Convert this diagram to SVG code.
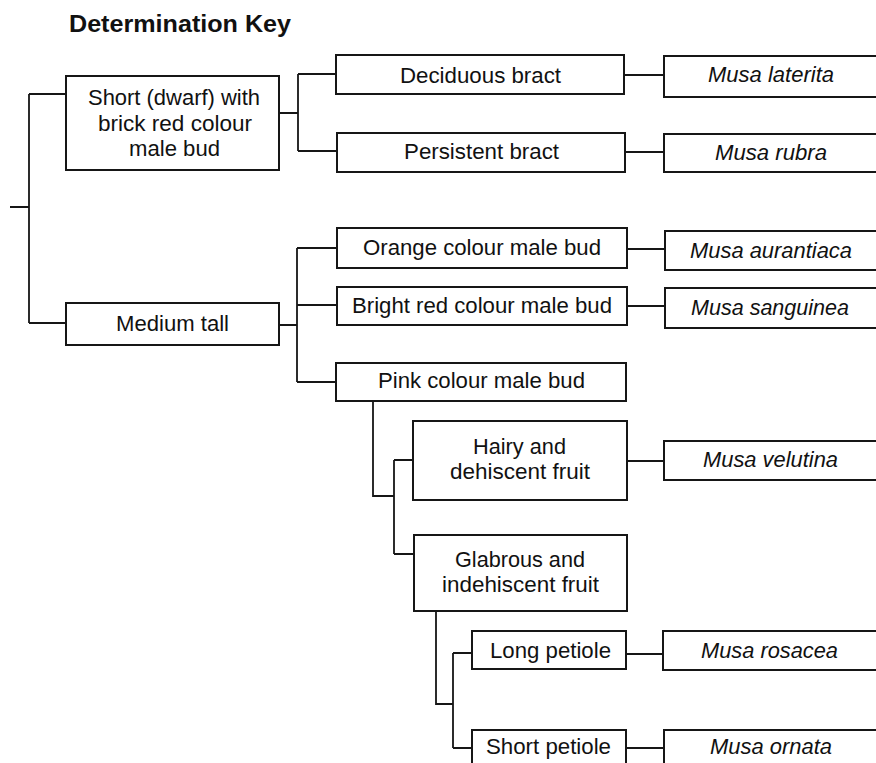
<svg xmlns="http://www.w3.org/2000/svg" width="876" height="763" viewBox="0 0 876 763">
<style>
.bg{fill:#ffffff}
.box{fill:#ffffff;stroke:#161616;stroke-width:2}
.ln{fill:none;stroke:#161616;stroke-width:1.8}
text{font-family:"Liberation Sans",Arial,Helvetica,sans-serif;font-size:22px;fill:#111111}
.it{font-style:italic}
.title{font-weight:bold;font-size:23px}
</style>
<rect class="bg" x="0" y="0" width="876" height="763"/>
<text class="title" x="69" y="32" textLength="222" lengthAdjust="spacingAndGlyphs">Determination Key</text>
<g id="connectors">
<path class="ln" d="M10 207 H29 M29 94 V323 M29 94 H66 M29 323 H66"/>
<path class="ln" d="M279 113 H298 M298 74 V151 M298 74 H336 M298 151 H337"/>
<path class="ln" d="M624 75 H664 M625 152 H664"/>
<path class="ln" d="M279 325 H297 M297 248 V382 M297 248 H337 M297 305 H337 M297 382 H336"/>
<path class="ln" d="M627 249 H665 M627 306 H665"/>
<path class="ln" d="M373 401 V496 H394 M394 460 V554 M394 460 H413 M394 554 H414"/>
<path class="ln" d="M627 461 H664"/>
<path class="ln" d="M436 611 V704 H453 M453 653 V748 M453 653 H472 M453 748 H472"/>
<path class="ln" d="M626 654 H663 M626 748 H664"/>
</g>
<g id="n-short">
<rect class="box" x="66" y="76" width="213" height="94"/>
<text x="88" y="105" textLength="172" lengthAdjust="spacingAndGlyphs">Short (dwarf) with</text>
<text x="98" y="130.5" textLength="154" lengthAdjust="spacingAndGlyphs">brick red colour</text>
<text x="129" y="156" textLength="91" lengthAdjust="spacingAndGlyphs">male bud</text>
</g>
<g id="n-deciduous">
<rect class="box" x="336" y="55" width="288" height="39"/>
<text x="400" y="83" textLength="161" lengthAdjust="spacingAndGlyphs">Deciduous bract</text>
</g>
<g id="n-persistent">
<rect class="box" x="337" y="133" width="288" height="39"/>
<text x="404" y="159" textLength="155" lengthAdjust="spacingAndGlyphs">Persistent bract</text>
</g>
<g id="n-laterita">
<rect class="box" x="664" y="56" width="240" height="41"/>
<text class="it" x="708" y="82" textLength="126" lengthAdjust="spacingAndGlyphs">Musa laterita</text>
</g>
<g id="n-rubra">
<rect class="box" x="664" y="134" width="240" height="38"/>
<text class="it" x="715" y="160" textLength="112" lengthAdjust="spacingAndGlyphs">Musa rubra</text>
</g>
<g id="n-medium">
<rect class="box" x="66" y="303" width="213" height="42"/>
<text x="116" y="331" textLength="113" lengthAdjust="spacingAndGlyphs">Medium tall</text>
</g>
<g id="n-orange">
<rect class="box" x="337" y="228" width="290" height="40"/>
<text x="363" y="255" textLength="238" lengthAdjust="spacingAndGlyphs">Orange colour male bud</text>
</g>
<g id="n-brightred">
<rect class="box" x="337" y="287" width="290" height="38"/>
<text x="352" y="313" textLength="260" lengthAdjust="spacingAndGlyphs">Bright red colour male bud</text>
</g>
<g id="n-pink">
<rect class="box" x="336" y="363" width="290" height="38"/>
<text x="378" y="388" textLength="207" lengthAdjust="spacingAndGlyphs">Pink colour male bud</text>
</g>
<g id="n-aurantiaca">
<rect class="box" x="665" y="231" width="240" height="39"/>
<text class="it" x="690" y="258" textLength="162" lengthAdjust="spacingAndGlyphs">Musa aurantiaca</text>
</g>
<g id="n-sanguinea">
<rect class="box" x="665" y="288" width="240" height="40"/>
<text class="it" x="691" y="315" textLength="158" lengthAdjust="spacingAndGlyphs">Musa sanguinea</text>
</g>
<g id="n-hairy">
<rect class="box" x="413" y="421" width="214" height="79"/>
<text x="473" y="454" textLength="93" lengthAdjust="spacingAndGlyphs">Hairy and</text>
<text x="450" y="479" textLength="140" lengthAdjust="spacingAndGlyphs">dehiscent fruit</text>
</g>
<g id="n-velutina">
<rect class="box" x="664" y="441" width="240" height="39"/>
<text class="it" x="703" y="467" textLength="135" lengthAdjust="spacingAndGlyphs">Musa velutina</text>
</g>
<g id="n-glabrous">
<rect class="box" x="414" y="535" width="213" height="76"/>
<text x="455" y="567" textLength="130" lengthAdjust="spacingAndGlyphs">Glabrous and</text>
<text x="442" y="592" textLength="157" lengthAdjust="spacingAndGlyphs">indehiscent fruit</text>
</g>
<g id="n-long">
<rect class="box" x="472" y="631" width="154" height="38"/>
<text x="490" y="658" textLength="121" lengthAdjust="spacingAndGlyphs">Long petiole</text>
</g>
<g id="n-rosacea">
<rect class="box" x="663" y="631" width="240" height="39"/>
<text class="it" x="701" y="658" textLength="137" lengthAdjust="spacingAndGlyphs">Musa rosacea</text>
</g>
<g id="n-shortpet">
<rect class="box" x="472" y="730" width="154" height="60"/>
<text x="486" y="754" textLength="125" lengthAdjust="spacingAndGlyphs">Short petiole</text>
</g>
<g id="n-ornata">
<rect class="box" x="664" y="730" width="240" height="60"/>
<text class="it" x="710" y="754" textLength="122" lengthAdjust="spacingAndGlyphs">Musa ornata</text>
</g>
</svg>
